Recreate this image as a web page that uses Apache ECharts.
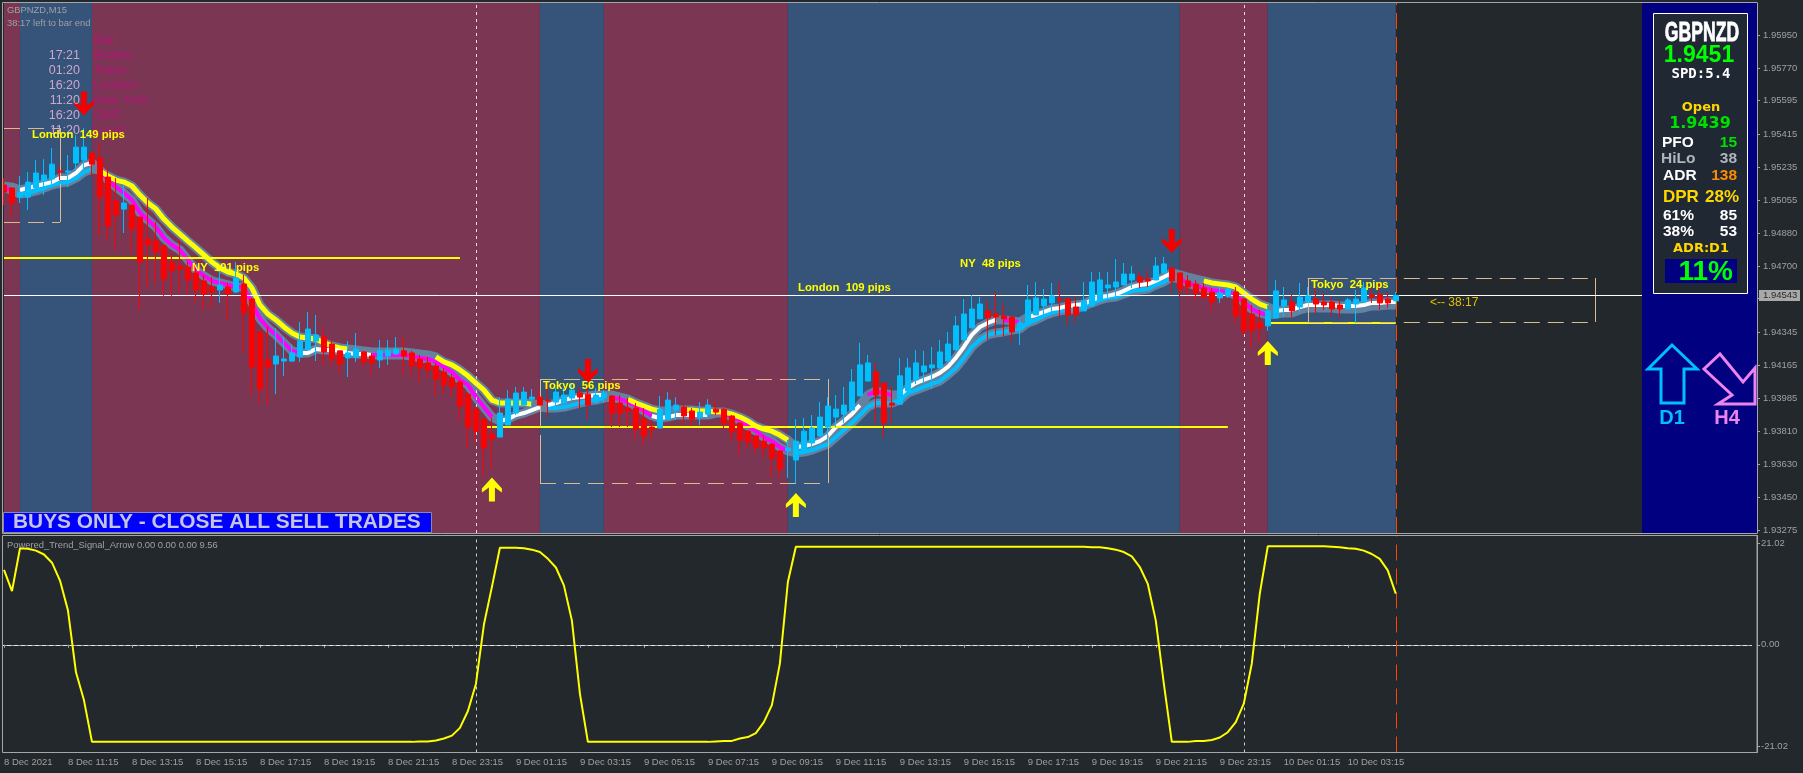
<!DOCTYPE html>
<html><head><meta charset="utf-8"><style>html,body{margin:0;padding:0;background:#23282c}#c{width:1803px;height:773px}</style>
<script src="https://cdn.jsdelivr.net/npm/echarts@6/dist/echarts.min.js"></script></head><body><div id="c"></div>
<script>
// prices are stored as points (0.00001) above BASE_PRICE
const BASE_PRICE = 1.93, POINT = 0.00001;
const tickLabels = ['8 Dec 2021','8 Dec 11:15','8 Dec 13:15','8 Dec 15:15','8 Dec 17:15','8 Dec 19:15','8 Dec 21:15','8 Dec 23:15','9 Dec 01:15','9 Dec 03:15','9 Dec 05:15','9 Dec 07:15','9 Dec 09:15','9 Dec 11:15','9 Dec 13:15','9 Dec 15:15','9 Dec 17:15','9 Dec 19:15','9 Dec 21:15','9 Dec 23:15','10 Dec 01:15','10 Dec 03:15'];
const priceTicks = [1.95950,1.95770,1.95595,1.95415,1.95235,1.95055,1.94880,1.94700,1.94525,1.94345,1.94165,1.93985,1.93810,1.93630,1.93450,1.93275];
const oscTicks = [21.02,0,-21.02];
const lastPrice = 1.94543;
// open, high, low, close
const candles = [[2139,2177,2031,2101],[2123,2128,1966,2042],[2074,2188,2042,2096],[2074,2209,2004,2155],[2123,2274,2101,2204],[2161,2279,2085,2193],[2172,2339,2128,2252],[2215,2247,2166,2209],[2209,2301,2128,2215],[2258,2409,2215,2344],
[2274,2447,2220,2344],[2312,2317,2182,2252],[2285,2366,1864,2074],[2182,2242,1836,1918],[2053,2177,1788,1977],[2009,2139,1880,2042],[2031,2031,1772,1901],[1966,1966,1464,1723],[1847,2069,1588,1815],[1836,1939,1610,1777],
[1810,1815,1540,1631],[1723,1772,1540,1675],[1702,1842,1556,1685],[1696,1723,1545,1626],[1664,1718,1502,1572],[1621,1653,1464,1550],[1588,1642,1475,1561],[1572,1680,1502,1599],[1588,1610,1405,1550],[1561,1723,1556,1637],
[1604,1653,1232,1448],[1523,1529,1004,1156],[1345,1345,961,1037],[1194,1372,950,1156],[1172,1367,1009,1215],[1188,1318,1108,1199],[1188,1275,1183,1232],[1210,1399,1183,1296],[1248,1453,1248,1361],[1296,1437,1188,1329],
[1318,1367,1167,1237],[1280,1302,1161,1199],[1243,1243,1124,1172],[1205,1296,1102,1232],[1210,1340,1183,1253],[1237,1243,1156,1183],[1215,1232,1113,1178],[1194,1302,1151,1243],[1215,1302,1167,1248],[1226,1318,1221,1253],
[1243,1318,1118,1215],[1232,1243,1102,1161],[1199,1221,1069,1151],[1178,1210,1097,1140],[1161,1178,999,1091],[1129,1151,1009,1059],[1097,1118,993,1048],[1075,1086,869,945],[1009,1020,718,831],[928,934,750,809],
[874,880,561,718],[793,880,604,766],[777,993,777,907],[842,1031,842,982],[907,1048,896,1015],[950,1048,950,1020],[982,1037,939,993],[993,1031,950,950],[977,1075,880,972],[966,1042,939,1020],
[961,1042,950,1004],[988,1069,977,1031],[1015,1048,934,993],[1009,1059,869,950],[966,1042,961,1004],[988,1031,961,1015],[999,1004,831,907],[961,1004,831,907],[934,988,831,918],[934,961,766,820],
[874,934,734,783],[831,869,766,820],[826,999,826,928],[874,1020,869,977],[923,993,869,950],[939,950,853,891],[918,934,842,874],[885,966,842,912],[901,982,880,950],[928,972,896,912],
[928,934,820,853],[891,896,755,804],[853,853,680,761],[809,815,718,750],[783,788,691,723],[755,788,664,718],[739,745,561,664],[702,707,556,604],[702,761,556,718],[653,874,529,755],
[696,880,696,809],[745,896,696,826],[783,966,783,885],[831,993,761,945],[885,1004,831,928],[901,1048,853,950],[923,1145,923,1075],[999,1286,999,1167],[1080,1221,1080,1178],[1129,1178,847,1004],
[1069,1069,772,853],[961,1048,847,950],[955,1205,955,1108],[1026,1205,1026,1151],[1086,1248,1064,1178],[1129,1243,1069,1161],[1151,1264,1037,1167],[1151,1302,1151,1237],[1188,1345,1188,1280],[1248,1432,1248,1378],
[1302,1523,1302,1442],[1367,1545,1367,1469],[1416,1534,1416,1496],[1459,1513,1302,1421],[1442,1561,1329,1426],[1432,1502,1318,1416],[1426,1432,1291,1345],[1372,1421,1275,1394],[1383,1599,1383,1518],[1437,1615,1437,1529],
[1486,1577,1426,1523],[1502,1610,1448,1540],[1523,1610,1426,1518],[1523,1529,1383,1437],[1480,1534,1394,1437],[1459,1615,1459,1513],[1486,1669,1486,1615],[1518,1669,1518,1626],[1583,1669,1529,1599],[1588,1739,1540,1615],
[1599,1718,1599,1658],[1626,1702,1583,1658],[1642,1669,1583,1615],[1631,1680,1588,1621],[1626,1750,1626,1702],[1664,1750,1664,1713],[1691,1696,1556,1621],[1664,1664,1534,1577],[1621,1653,1545,1588],[1604,1626,1518,1556],
[1583,1610,1529,1534],[1561,1583,1459,1507],[1529,1588,1502,1556],[1540,1583,1529,1577],[1561,1588,1394,1432],[1523,1529,1318,1351],[1442,1491,1259,1351],[1394,1464,1291,1367],[1378,1491,1351,1459],[1421,1626,1421,1567],
[1486,1588,1426,1518],[1507,1545,1421,1459],[1480,1610,1453,1534],[1507,1588,1507,1540],[1523,1588,1442,1496],[1507,1556,1464,1491],[1507,1534,1432,1469],[1491,1518,1416,1469],[1469,1529,1469,1518],[1496,1572,1394,1523],
[1507,1615,1507,1583],[1545,1583,1502,1534],[1545,1615,1464,1502],[1523,1561,1475,1502],[1513,1561,1513,1543]];
const upperBand = [2134,2128,2112,2123,2134,2145,2155,2177,2177,2204,2247,2258,2215,2188,2166,2155,2134,2085,2042,2009,
1955,1912,1874,1836,1799,1761,1723,1691,1669,1658,1637,1583,1491,1442,1410,1372,1340,1318,1313,1307,
1286,1270,1259,1253,1248,1243,1237,1237,1237,1237,1237,1232,1226,1221,1210,1183,1167,1140,1108,1069,
1031,977,961,961,961,961,955,955,950,961,977,988,993,999,1004,1004,1004,993,982,961,
945,928,918,918,923,923,923,918,918,912,912,901,885,864,836,820,809,788,761,723,
728,739,755,783,831,864,901,950,1004,1026,1015,1004,1004,1042,1069,1086,1102,1124,1156,1205,
1264,1329,1372,1394,1410,1410,1405,1399,1426,1437,1453,1469,1475,1486,1491,1496,1518,1534,1540,1550,
1567,1588,1599,1604,1621,1642,1664,1653,1642,1631,1621,1610,1604,1599,1588,1556,1523,1496,1480,1459,
1464,1464,1480,1491,1491,1491,1491,1486,1486,1486,1491,1502,1502,1507,1507];
const lowerBand = [2123,2112,2090,2096,2107,2123,2139,2150,2155,2177,2209,2226,2220,2166,2128,2096,2058,1988,1950,1912,
1853,1815,1788,1734,1680,1648,1621,1610,1599,1588,1588,1502,1416,1367,1329,1286,1243,1232,1232,1253,
1248,1248,1243,1232,1226,1226,1221,1221,1221,1221,1221,1215,1205,1199,1183,1156,1129,1086,1059,993,
939,885,864,874,896,907,923,939,934,934,939,950,961,972,977,988,993,982,966,945,
918,891,880,885,896,896,896,896,896,907,907,885,869,836,809,777,755,723,702,691,
696,707,723,739,777,815,853,896,939,961,961,961,977,1015,1031,1048,1064,1080,1113,1151,
1205,1264,1302,1329,1340,1345,1356,1361,1394,1410,1432,1448,1459,1464,1469,1486,1502,1518,1529,1534,
1550,1567,1572,1577,1599,1615,1642,1631,1610,1594,1583,1572,1567,1561,1545,1507,1469,1448,1437,1442,
1448,1448,1464,1475,1475,1475,1475,1469,1469,1469,1475,1486,1486,1491,1491];
// which bars of each band carry which colour
const yellowUpper = [[12,43],[54,66],[78,82],[85,98],[150,158]];
const magentaLower = [[0,1],[12,37],[46,61],[76,81],[89,98],[147,158]];
const magentaUpper = [[108,111],[125,127]];
const whiteUpper = [[2,11],[68,75],[99,107],[112,124],[128,146],[159,174]];
const whiteLower = [[37,46],[62,67],[81,88]];
const cyanLower = [[2,11],[68,75],[99,146]];
const oscillator = [15.5,11.1,20.0,19.9,19.5,18.7,17.0,13.3,7.1,-5.7,-11.5,-20.1,-20.1,-20.1,-20.1,-20.1,-20.1,-20.1,-20.1,-20.1,
-20.1,-20.1,-20.1,-20.1,-20.1,-20.1,-20.1,-20.1,-20.1,-20.1,-20.1,-20.1,-20.1,-20.1,-20.1,-20.1,-20.1,-20.1,-20.1,-20.1,
-20.1,-20.1,-20.1,-20.1,-20.1,-20.1,-20.1,-20.1,-20.1,-20.1,-20.1,-20.1,-20.0,-20.0,-19.8,-19.4,-18.8,-17.2,-13.7,-8.1,
4.2,12.0,20.1,20.1,20.1,20.0,19.7,19.2,17.8,16.0,12.3,5.0,-10.1,-20.1,-20.1,-20.1,-20.1,-20.1,-20.1,-20.1,
-20.1,-20.1,-20.1,-20.1,-20.1,-20.1,-20.1,-20.1,-20.1,-20.0,-19.9,-19.9,-19.4,-19.1,-18.3,-16.0,-12.5,-3.9,13.0,20.3,
20.3,20.3,20.3,20.3,20.3,20.3,20.3,20.3,20.3,20.3,20.3,20.3,20.3,20.3,20.3,20.3,20.3,20.3,20.3,20.3,
20.3,20.3,20.3,20.3,20.3,20.3,20.3,20.3,20.3,20.3,20.3,20.3,20.3,20.3,20.3,20.3,20.2,20.2,20.0,19.7,
19.2,18.3,16.1,12.6,5.0,-8.0,-20.1,-20.1,-20.1,-19.9,-19.9,-19.7,-19.2,-18.1,-16.0,-12.2,-3.9,10.6,20.4,20.4,
20.4,20.4,20.4,20.4,20.4,20.4,20.3,20.2,20.0,19.9,19.5,18.8,17.8,15.4,10.6];
// session blocks: first bar, last bar, kind
const sessions = [[0,2,'m'],[2,11,'b'],[11,67,'m'],[67,75,'b'],[75,98,'m'],[98,147,'b'],[147,158,'m'],[158,174,'b']];
const sessionColor = {m:'#7a3652', b:'#36537a'};
// level lines: first bar, last bar, points
const levels = [[0,57,1745],[60,153,832],[158,174,1395]];
// session boxes: first bar, last bar, top and bottom points
const boxes = [[0,7,2447,1939],[67,103,1091,529],[163,199,1637,1399]];
const sellArrows = [[10,2580],[73,1134],[146,1837]];
const buyArrows = [[61,494],[99,410],[158,1231]];
const vLines = [59,155];
const lastBar = 174;

const toPrice = p => +(BASE_PRICE + p * POINT).toFixed(5);
const span = (arr, spans) => arr.map((v,i) => spans.some(s => i>=s[0] && i<=s[1]) ? toPrice(v) : null);
const SLOTS = 219;
const cats = Array.from({length:SLOTS}, (_,i) => (i%8===0 && tickLabels[i/8]) || ('b'+i));
const showTick = i => i%8===0 && i/8 < tickLabels.length;
const C_AXIS = '#a6a6a6', C_TXT = '#a0a0a0', BG = '#23282c', FONT = '"Liberation Sans",Arial,sans-serif';

const bandLine = (name,data,color,width,z) => ({name,type:'line',xAxisIndex:0,yAxisIndex:0,data,symbol:'none',showSymbol:false,connectNulls:false,
  lineStyle:{color,width,cap:'butt',join:'bevel'},z,silent:true,animation:false});
const UP = 'path://M10,0 L20,11 L20,15 L13,10 L13,24 L7,24 L7,10 L0,15 L0,11 Z';
const DOWN = 'path://M7,0 L13,0 L13,14 L20,9 L20,13 L10,24 L0,13 L0,9 L7,14 Z';
const dashed = (color,type,width=1) => ({color,type,width});

const boxLines = [];
boxes.forEach(([a,b,t,bt])=>{
  const T=toPrice(t),B=toPrice(bt);
  boxLines.push([{xAxis:a,yAxis:T,lineStyle:dashed('#dcb990',[16,8])},{xAxis:b,yAxis:T}]);
  boxLines.push([{xAxis:a,yAxis:B,lineStyle:dashed('#dcb990',[16,8])},{xAxis:b,yAxis:B}]);
  boxLines.push([{xAxis:b,yAxis:T,lineStyle:dashed('#dcb990',[48,8])},{xAxis:b,yAxis:B}]);
  if(a>0) boxLines.push([{xAxis:a,yAxis:T,lineStyle:dashed('#dcb990',[48,8])},{xAxis:a,yAxis:B}]);
});

const series = [
 {name:'Sessions',type:'line',xAxisIndex:0,yAxisIndex:0,data:[],z:1,silent:true,
  markArea:{silent:true,z:1,data:sessions.map(([a,b,k])=>[{xAxis:a,itemStyle:{color:sessionColor[k],opacity:1}},{xAxis:b}])}},
 bandLine('Upper outline',upperBand.map(toPrice),'#64829f',9,3),
 bandLine('Lower outline',lowerBand.map(toPrice),'#64829f',9,3),
 bandLine('Cyan',span(lowerBand,cyanLower),'#00bfff',4,4),
 bandLine('Magenta low',span(lowerBand,magentaLower),'#ff00ff',4,4),
 bandLine('Magenta up',span(upperBand,magentaUpper),'#ff00ff',4,4),
 bandLine('Yellow',span(upperBand,yellowUpper),'#ffff00',5,5),
 bandLine('White up',span(upperBand,whiteUpper),'#ffffff',4,5),
 bandLine('White low',span(lowerBand,whiteLower),'#ffffff',4,5),
 {name:'Levels',type:'line',xAxisIndex:0,yAxisIndex:0,data:[],z:6,silent:true,
  markLine:{silent:true,symbol:'none',animation:false,label:{show:false},z:6,
   data:[
    ...levels.map(([a,b,p])=>[{xAxis:a,yAxis:toPrice(p),lineStyle:{color:'#ffff00',width:2,type:'solid'}},{xAxis:b,yAxis:toPrice(p)}]),
    ...boxLines,
    [{xAxis:0,yAxis:lastPrice,lineStyle:{color:'#ffffff',width:1,type:'solid'}},{xAxis:SLOTS-1,yAxis:lastPrice}],
    ...vLines.map(v=>({xAxis:v,lineStyle:dashed('#e8dce2',[3,4])})),
    {xAxis:lastBar,lineStyle:dashed('#ff4500',[16,8])}
   ]}},
 {name:'Price',type:'candlestick',xAxisIndex:0,yAxisIndex:0,z:7,barWidth:6,silent:true,
  data:candles.map(([o,h,l,c])=>[toPrice(o),toPrice(c),toPrice(l),toPrice(h)]),
  itemStyle:{color:'#00bfff',color0:'#ff0000',borderColor:'#00bfff',borderColor0:'#ff0000',borderColorDoji:'#ff0000',borderWidth:1}},
 {name:'Sell',type:'scatter',xAxisIndex:0,yAxisIndex:0,z:8,symbol:DOWN,symbolSize:[20,24],silent:true,
  data:sellArrows.map(([i,p])=>[i,toPrice(p)]),itemStyle:{color:'#f40000',opacity:1}},
 {name:'Buy',type:'scatter',xAxisIndex:0,yAxisIndex:0,z:8,symbol:UP,symbolSize:[20,24],silent:true,
  data:buyArrows.map(([i,p])=>[i,toPrice(p)]),itemStyle:{color:'#ffff00',opacity:1}},
 {name:'Powered_Trend_Signal_Arrow',type:'line',xAxisIndex:1,yAxisIndex:1,data:oscillator,symbol:'none',showSymbol:false,z:5,silent:true,
  lineStyle:{color:'#ffff00',width:2,join:'bevel'},
  markLine:{silent:true,symbol:'none',animation:false,label:{show:false},z:4,data:[
    {yAxis:0,lineStyle:dashed('#e6e6e6',[4,3])},
    ...vLines.map(v=>({xAxis:v,lineStyle:dashed('#cfcfcf',[3,4])})),
    {xAxis:lastBar,lineStyle:dashed('#ff4500',[16,8])}
  ]}}
];

const T = (text,x,y,font,fill,align='left',z=95) => ({type:'text',z,silent:true,style:{text,x,y,font,fill,align,verticalAlign:'middle'}});
const R = (x,y,width,height,fill,stroke,z=90,lineWidth=1) => ({type:'rect',z,silent:true,shape:{x,y,width,height},style:{fill,stroke,lineWidth}});
const POLY = (points,stroke) => ({type:'polygon',z:92,silent:true,shape:{points},style:{fill:'transparent',stroke,lineWidth:3}});
const B = (s,f=FONT) => `bold ${s}px ${f}`;
const N = (s,f=FONT) => `${s}px ${f}`;
const timeRows = [['Bar:','',41],['Broker:','17:21',56],['Tokyo:','01:20',71],['London:','16:20',86],['New York:','11:20',101],['GMT','16:20',116],['Local:','11:20',131]];
const pipLabels = [['London  149 pips',32,135],['NY  191 pips',192,268],['Tokyo  56 pips',543,386],['London  109 pips',798,288],['NY  48 pips',960,264],['Tokyo  24 pips',1311,285]];

const graphics = [
  R(0,0,2.5,773,BG,null,80),
  R(2.5,2.5,1754.5,531,'transparent',C_AXIS,89),
  R(2.5,535.5,1754.5,217,'transparent',C_AXIS,89),
  T('GBPNZD,M15',7,10.5,N(9.4),C_TXT),
  T('38:17 left to bar end',7,23.5,N(9.4),C_TXT),
  ...timeRows.flatMap(([l,t,y])=>[T(l,94,y,N(12.5),'#b4147a'),T(t,80,y,N(12.5),'#cfa6cc','right')]),
  ...pipLabels.map(([t,x,y])=>T(t,x,y,B(11.3),'#ffff00')),
  R(3.5,512.5,428,20,'#0000ff','#8a8a9a'),
  T('BUYS ONLY - CLOSE ALL SELL TRADES',13,522.5,B(20.9),'#c4c4dc'),
  T('Powered_Trend_Signal_Arrow 0.00 0.00 0.00 9.56',7,545,N(9.4),C_TXT),
  T('<-- 38:17',1430,303,N(12),'#e0c000'),
  // info panel
  R(1642,3,115,530,'#000080',null,90),
  R(1653.5,13.5,94,280,'#1f2833','#ffffff',91),
  {type:'text',z:95,silent:true,x:1702,y:33,scaleX:0.64,style:{text:'GBPNZD',x:0,y:0,font:B(27.5),fill:'#ffffff',stroke:'#ffffff',lineWidth:0.8,align:'center',verticalAlign:'middle'}},
  T('1.9451',1699,56,B(23),'#00ff00','center'),
  T('SPD:5.4',1701,74,B(14,'"DejaVu Sans Mono",monospace'),'#ffffff','center'),
  T('Open',1701,108,B(13,'"DejaVu Sans",sans-serif'),'#ffd700','center'),
  T('1.9439',1700,124,B(16,'"DejaVu Sans",sans-serif'),'#00e000','center'),
  T('PFO',1662,143,B(15.5),'#ffffff'),T('15',1737,143,B(15.5),'#00e000','right'),
  T('HiLo',1661,159,B(15.5),'#b0b4bc'),T('38',1737,159,B(15.5),'#b0b4bc','right'),
  T('ADR',1663,176,B(15.5),'#ffffff'),T('138',1737,176,B(15.5),'#ff8c00','right'),
  T('DPR',1663,197,B(17),'#ffd700'),T('28%',1739,197,B(17),'#ffd700','right'),
  T('61%',1663,216,B(15.5),'#ffffff'),T('85',1737,216,B(15.5),'#ffffff','right'),
  T('38%',1663,232,B(15.5),'#ffffff'),T('53',1737,232,B(15.5),'#ffffff','right'),
  T('ADR:D1',1701,249,B(13,'"DejaVu Sans",sans-serif'),'#ffd700','center'),
  R(1665,259,72,24,'#000080',null,93),
  T('11%',1733,272,B(28),'#00ff00','right'),
  POLY([[1672,345],[1697,369],[1684,369],[1684,403],[1661,403],[1661,369],[1648,369]],'#00bfff'),
  POLY([[1720,354],[1743,382],[1755,368],[1755,404],[1718,404],[1732,395],[1704,369]],'#ee82ee'),
  T('D1',1672,418,B(20),'#00bfff','center'),
  T('H4',1727,418,B(20),'#ee82ee','center'),
  // price tag
  R(1759,290,41,11,'#a8a8a8',null,93),
  T('1.94543',1763,295.5,N(9.5),'#2a2a2a','left',96)
];

const chart = echarts.init(document.getElementById('c'),null,{renderer:'canvas'});
chart.setOption({
  animation:false,backgroundColor:BG,
  grid:[{left:-0.3,top:3,width:1752,height:530,show:false},{left:-0.3,top:535.5,width:1752,height:217,show:false}],
  xAxis:[
   {type:'category',gridIndex:0,data:cats,boundaryGap:true,axisLine:{show:false},axisTick:{show:false},axisLabel:{show:false},splitLine:{show:false}},
   {type:'category',gridIndex:1,data:cats,boundaryGap:true,axisLine:{lineStyle:{color:C_AXIS}},
    axisTick:{show:true,alignWithLabel:true,length:3,interval:i=>showTick(i),lineStyle:{color:C_AXIS}},
    axisLabel:{show:true,interval:i=>showTick(i),color:C_TXT,fontFamily:FONT,fontSize:9.5,align:'left',margin:5,hideOverlap:false,showMinLabel:true},
    splitLine:{show:false}}
  ],
  yAxis:[
   {type:'value',gridIndex:0,position:'right',offset:5.3,min:1.932587,max:1.961228,scale:true,
    axisLine:{show:true,lineStyle:{color:C_AXIS}},
    axisTick:{show:true,length:3,customValues:priceTicks,lineStyle:{color:C_AXIS}},
    axisLabel:{show:true,customValues:priceTicks,formatter:v=>v.toFixed(5),color:C_TXT,fontFamily:FONT,fontSize:9.5,margin:6},splitLine:{show:false}},
   {type:'value',gridIndex:1,position:'right',offset:5.3,min:-22.3,max:22.63,
    axisLine:{show:true,lineStyle:{color:C_AXIS}},
    axisTick:{show:true,length:3,customValues:oscTicks,lineStyle:{color:C_AXIS}},
    axisLabel:{show:true,customValues:oscTicks,formatter:v=>v.toFixed(2),color:C_TXT,fontFamily:FONT,fontSize:9.5,margin:4},splitLine:{show:false}}
  ],
  series,
  graphic:{elements:graphics}
});
</script></body></html>
